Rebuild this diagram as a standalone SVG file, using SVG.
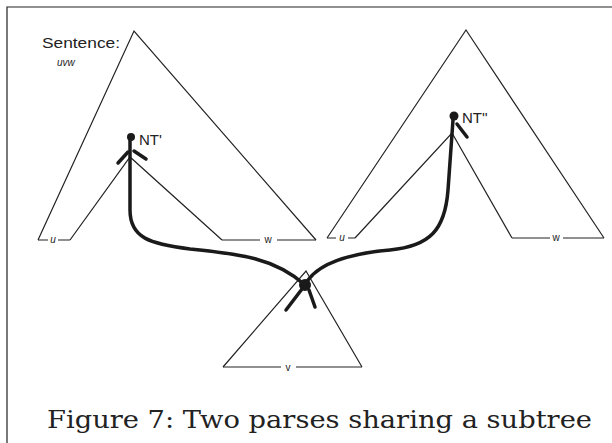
<svg xmlns="http://www.w3.org/2000/svg" width="612" height="443" viewBox="0 0 612 443">
<style>
.thin{fill:none;stroke:#222;stroke-width:1.2}
.thick{fill:none;stroke:#1a1a1a;stroke-width:3.5;stroke-linecap:round}
.lbl{font-family:"Liberation Sans",Arial,sans-serif;font-size:10px;fill:#222}
.nt{font-family:"Liberation Sans",Arial,sans-serif;font-size:15px;fill:#222}
.cap{font-family:"DejaVu Serif","Liberation Serif",serif;font-size:24px;fill:#222}
</style>
<rect width="612" height="443" fill="#fff"/>
<g id="frame"><path class="thin" d="M7,443 L7,7 L612,7" stroke-width="1.5"/></g>
<g id="tree1">
<path class="thin" d="M38,240 L134,31 L316,240"/>
<path class="thin" d="M70,240 L130,157 L222,240"/>
<path class="thin" d="M38,240 H48 M58,240 H70 M222,240 H260 M277,240 H316"/>
<text class="lbl" x="53" y="243" text-anchor="middle" font-style="italic">u</text>
<text class="lbl" x="268" y="243" text-anchor="middle">w</text>
<text class="nt" x="42" y="48" font-size="16" textLength="78" lengthAdjust="spacingAndGlyphs">Sentence:</text>
<text class="lbl" x="57" y="66" font-style="italic" font-size="11">uvw</text>
</g>
<g id="tree2">
<path class="thin" d="M327,238 L466,30 L604,238"/>
<path class="thin" d="M355,238 L452,133 L512,238"/>
<path class="thin" d="M327,238 H336 M348,238 H355 M512,238 H550 M563,238 H604"/>
<text class="lbl" x="342" y="241" text-anchor="middle" font-style="italic">u</text>
<text class="lbl" x="556" y="241" text-anchor="middle">w</text>
</g>
<g id="subtree">
<path class="thin" d="M223,367 L306,271 L362,367"/>
<path class="thin" d="M223,367 H281 M296,367 H362"/>
<text class="lbl" x="288" y="371" text-anchor="middle">v</text>
</g>
<g id="nt1">
<circle cx="131" cy="137" r="4" fill="#1a1a1a"/>
<text class="nt" x="139" y="145">NT'</text>
</g>
<g id="nt2">
<circle cx="454" cy="116" r="4.5" fill="#1a1a1a"/>
<text class="nt" x="462" y="123">NT''</text>
</g>
<g id="shared">
<circle cx="305" cy="285" r="6" fill="#1a1a1a"/>
</g>
<g id="connectors">
<path class="thick" d="M130,139 L130,210 C130,238 150,244 190,249 C240,254 275,258 305,285"/>
<path class="thick" d="M305,285 C315,265 345,254 390,250 C430,246 445,230 448,190 L453,120"/>
<path class="thick" d="M118,163 L128,152 M134,151 L146,159"/>
<path class="thick" d="M457,124 L467,137"/>
<path class="thick" d="M302,289 L286,310 M309,290 L315,307"/>
</g>
<text class="cap" x="47" y="428" textLength="545" lengthAdjust="spacingAndGlyphs">Figure 7: Two parses sharing a subtree</text>
</svg>
